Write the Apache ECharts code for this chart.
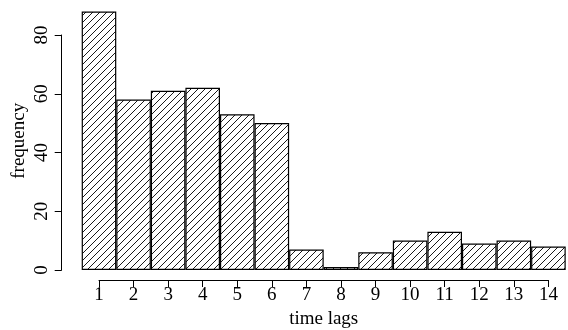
<!DOCTYPE html>
<html>
<head>
<meta charset="utf-8">
<script src="https://cdn.jsdelivr.net/npm/echarts@6/dist/echarts.min.js"></script>
<style>
html,body{margin:0;padding:0;background:#fff;}
#chart{width:568px;height:330px;}
</style>
</head>
<body>
<div id="chart"></div>
<script>
var lags = ['1','2','3','4','5','6','7','8','9','10','11','12','13','14'];
var frequency = [88, 58, 61, 62, 53, 50, 7, 1, 6, 10, 13, 9, 10, 8];
var yTicks = [0, 20, 40, 60, 80];

var FONT = '"Liberation Serif", "DejaVu Serif", serif';

function hatch() {
  var s = 7;
  var c = document.createElement('canvas');
  c.width = s; c.height = s;
  var ctx = c.getContext('2d');
  ctx.fillStyle = '#fff';
  ctx.fillRect(0, 0, s, s);
  ctx.strokeStyle = '#000';
  ctx.lineWidth = 0.9;
  ctx.beginPath();
  ctx.moveTo(-1, s + 1); ctx.lineTo(s + 1, -1);
  ctx.moveTo(-1, 1); ctx.lineTo(1, -1);
  ctx.moveTo(s - 1, s + 1); ctx.lineTo(s + 1, s - 1);
  ctx.stroke();
  return c;
}

var chart = echarts.init(document.getElementById('chart'), null, {renderer: 'canvas'});
chart.setOption({
  animation: false,
  backgroundColor: '#fff',
  grid: [
    {left: 81.7, width: 484, top: 35, bottom: 60},
    {left: 99, width: 449.4, top: 279, height: 1}
  ],
  xAxis: [
    {type: 'category', gridIndex: 0, data: lags, show: false, boundaryGap: true},
    {type: 'category', gridIndex: 1, data: lags, boundaryGap: false,
     axisLine: {show: true, lineStyle: {color: '#000', width: 1}},
     axisTick: {show: true, length: 7, lineStyle: {color: '#000', width: 1}},
     axisLabel: {show: true, interval: 0, margin: 6, color: '#000', fontFamily: FONT, fontSize: 19},
     splitLine: {show: false},
     name: 'time lags', nameLocation: 'middle', nameGap: 30,
     nameTextStyle: {color: '#000', fontFamily: FONT, fontSize: 19}}
  ],
  yAxis: [
    {type: 'value', gridIndex: 0, min: yTicks[0], max: yTicks[yTicks.length - 1], interval: 20,
     offset: 20,
     axisLine: {show: true, lineStyle: {color: '#000', width: 1}},
     axisTick: {show: true, length: 7, lineStyle: {color: '#000', width: 1}},
     axisLabel: {show: true, rotate: 90, margin: 10, color: '#000', fontFamily: FONT, fontSize: 19},
     splitLine: {show: false}},
    {type: 'value', gridIndex: 1, show: false}
  ],
  graphic: [
    {type: 'text', x: 19, y: 140.75, rotation: Math.PI / 2,
     style: {text: 'frequency', align: 'center', verticalAlign: 'middle',
             font: '19px "Liberation Serif", serif', fill: '#000'}}
  ],
  series: [
    {type: 'bar', xAxisIndex: 0, yAxisIndex: 0, data: frequency,
     barCategoryGap: '0%', clip: false,
     itemStyle: {color: {image: hatch(), repeat: 'repeat'}, borderColor: '#000', borderWidth: 1.2}}
  ]
});
</script>
</body>
</html>
